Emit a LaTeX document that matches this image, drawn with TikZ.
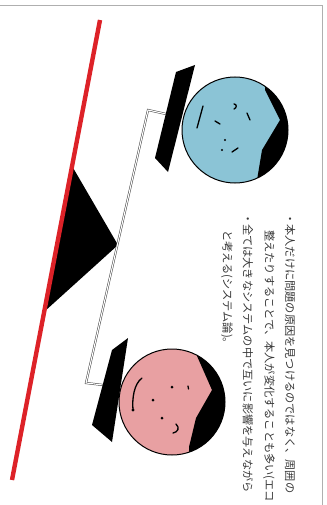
\documentclass[tikz,border=0pt]{standalone}
\usepackage{fontspec}
\newfontfamily\jpfont{Noto Sans CJK JP}
\usepackage{tikz}
\definecolor{seesawred}{RGB}{221,34,40}
\definecolor{faceblue}{RGB}{139,196,214}
\definecolor{facepink}{RGB}{232,160,162}
\definecolor{framegray}{RGB}{175,175,175}

\begin{document}
\begin{tikzpicture}[
    x=1pt, y=-1pt,
    ground/.style={draw=seesawred, line width=4.4pt},
    fulcrum/.style={fill=black},
    beam/.style={
        draw=black!75,
        line width=0.5pt,
        double=white,
        double distance=1.1pt
    },
    hat/.style={fill=black},
    head/.style={draw=black, line width=1pt},
    hair/.style={fill=black},
    feature/.style={draw=black, line width=1.3pt, line cap=round},
    freckle/.style={fill=black},
    note/.style={
        font=\jpfont\fontsize{11.2pt}{13pt}\selectfont,
        text=black!78,
        rotate=-90,
        anchor=west,
        inner sep=0pt
    }
]

\useasboundingbox (0,0) rectangle (326,505);
\clip (0,0) rectangle (326,505);

\draw[framegray, line width=0.8pt] (0,5) -- (322,5) -- (322,505);

\coordinate (pivot) at (118,245);
\coordinate (bluehat) at (166,114);
\coordinate (pinkhat) at (103,385);
\coordinate (beamtop) at (148,110);
\coordinate (beambot) at (86,383);

\fill[fulcrum] (72,166) -- (pivot) -- (45,311) -- cycle;
\draw[ground] (100,20) -- (12,480);

\draw[beam] (bluehat) -- (beamtop) -- (beambot) -- (pinkhat);

% upper head
\fill[hat] (176,72) -- (195,65) -- (168,172) -- (155,158) -- cycle;
\fill[faceblue] (235,130) circle[radius=53];
\begin{scope}
    \clip (235,130) circle[radius=53];
    \fill[hair] (265,70) -- (265,90) -- (280,120) -- (262,150) -- (257,180)
        -- (257,190) -- (300,190) -- (300,70) -- cycle;
\end{scope}
\draw[head] (235,130) circle[radius=53];
\draw[feature] (203,106) -- (197,128);
\draw[feature] (215,121) -- (220,124);
\draw[feature] (234,104) .. controls (237,104) and (237,108) .. (234,109);
\draw[feature] (247,113) -- (250,120);
\fill[freckle] (225,140) circle[radius=1.2];
\fill[freckle] (222,150) circle[radius=1.2];
\draw[feature] (232,152) -- (238,148);

% lower head
\fill[hat] (112,350) -- (128,338) -- (112,442) -- (92,425) -- cycle;
\fill[facepink] (172,402) circle[radius=53];
\begin{scope}
    \clip (172,402) circle[radius=53];
    \fill[hair] (197,340) -- (197,356) -- (212,390) -- (196,418) -- (189,447)
        -- (189,470) -- (240,470) -- (240,340) -- cycle;
\end{scope}
\draw[head] (172,402) circle[radius=53];
\draw[feature] (142,378) .. controls (134,384) and (132,398) .. (133,410);
\fill[freckle] (133,410) circle[radius=1.6];
\fill[freckle] (172,387) circle[radius=1.5];
\draw[feature] (188,386) -- (188.5,389);
\fill[freckle] (153,400) circle[radius=1.5];
\fill[freckle] (162,418) circle[radius=1.5];
\draw[feature] (176,424) .. controls (180,428) and (178,432) .. (173,433);

\node[note] (line1) at (290,213) {・本人だけに問題の原因を見つけるのではなく、周囲の};
\node[note] (line2) at (269,230) {整えたりすることで、本人が変化することも多い(エコ};
\node[note] (line3) at (248,213) {・全ては大きなシステムの中で互いに影響を与えながら};
\node[note] (line4) at (227,230) {と考える(システム論)。};

\end{tikzpicture}
\end{document}
